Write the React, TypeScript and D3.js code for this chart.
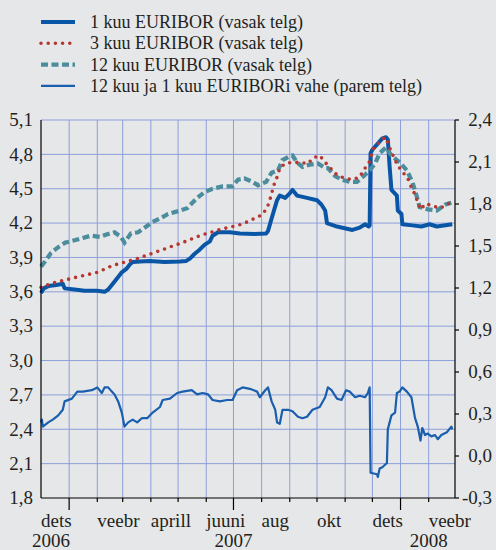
import React from "react";
import * as d3 from "d3";

// 1 kuu EURIBOR (vasak telg)
const oneMonth: [string, number][] = [
  ["2006-12-01", 3.59], ["2006-12-04", 3.63], ["2006-12-09", 3.65], ["2006-12-18", 3.66],
  ["2006-12-25", 3.67], ["2006-12-27", 3.63], ["2007-01-07", 3.62], ["2007-01-18", 3.61],
  ["2007-02-01", 3.61], ["2007-02-09", 3.6], ["2007-02-13", 3.62], ["2007-02-17", 3.66],
  ["2007-02-24", 3.73], ["2007-02-28", 3.77], ["2007-03-05", 3.8], ["2007-03-09", 3.84],
  ["2007-03-12", 3.86], ["2007-03-20", 3.865], ["2007-03-31", 3.87], ["2007-04-16", 3.86],
  ["2007-05-03", 3.865], ["2007-05-10", 3.87], ["2007-05-14", 3.89], ["2007-05-19", 3.93],
  ["2007-05-25", 3.97], ["2007-05-30", 4.01], ["2007-06-05", 4.04], ["2007-06-08", 4.09],
  ["2007-06-14", 4.12], ["2007-06-27", 4.12], ["2007-07-08", 4.11], ["2007-07-24", 4.105],
  ["2007-08-06", 4.11], ["2007-08-08", 4.13], ["2007-08-12", 4.24], ["2007-08-18", 4.4],
  ["2007-08-21", 4.44], ["2007-08-27", 4.42], ["2007-09-01", 4.46], ["2007-09-04", 4.49],
  ["2007-09-09", 4.44], ["2007-09-20", 4.42], ["2007-10-01", 4.4], ["2007-10-06", 4.36],
  ["2007-10-10", 4.31], ["2007-10-12", 4.2], ["2007-10-23", 4.17], ["2007-11-09", 4.14],
  ["2007-11-17", 4.16], ["2007-11-23", 4.19], ["2007-11-27", 4.17], ["2007-11-28", 4.18],
  ["2007-11-29", 4.81], ["2007-12-01", 4.84], ["2007-12-12", 4.94], ["2007-12-16", 4.95],
  ["2007-12-18", 4.93], ["2007-12-20", 4.69], ["2007-12-22", 4.49], ["2007-12-28", 4.44],
  ["2007-12-29", 4.31], ["2008-01-02", 4.28], ["2008-01-03", 4.19], ["2008-01-14", 4.18],
  ["2008-01-24", 4.17], ["2008-02-02", 4.19], ["2008-02-10", 4.17], ["2008-02-27", 4.19],
];

// 3 kuu EURIBOR (vasak telg)
const threeMonth: [string, number][] = [
  ["2006-12-01", 3.64], ["2006-12-11", 3.67], ["2007-01-05", 3.72], ["2007-02-01", 3.77],
  ["2007-02-18", 3.83], ["2007-03-17", 3.89], ["2007-04-11", 3.96], ["2007-05-06", 4.03],
  ["2007-05-25", 4.09], ["2007-06-02", 4.11], ["2007-06-19", 4.15], ["2007-07-06", 4.18],
  ["2007-07-16", 4.21], ["2007-07-24", 4.24], ["2007-08-01", 4.27], ["2007-08-07", 4.33],
  ["2007-08-10", 4.4], ["2007-08-12", 4.46], ["2007-08-16", 4.57], ["2007-08-18", 4.6],
  ["2007-08-21", 4.68], ["2007-08-27", 4.72], ["2007-09-03", 4.73], ["2007-09-12", 4.73],
  ["2007-09-21", 4.72], ["2007-09-27", 4.77], ["2007-10-04", 4.79], ["2007-10-10", 4.73],
  ["2007-10-17", 4.67], ["2007-10-23", 4.62], ["2007-10-29", 4.6], ["2007-11-08", 4.58],
  ["2007-11-17", 4.6], ["2007-11-21", 4.66], ["2007-11-27", 4.72], ["2007-11-30", 4.79],
  ["2007-12-02", 4.85], ["2007-12-08", 4.9], ["2007-12-15", 4.95], ["2007-12-18", 4.9],
  ["2007-12-22", 4.82], ["2007-12-29", 4.7], ["2008-01-03", 4.65], ["2008-01-09", 4.59],
  ["2008-01-13", 4.51], ["2008-01-17", 4.45], ["2008-01-20", 4.38], ["2008-01-23", 4.32],
  ["2008-01-29", 4.37], ["2008-02-05", 4.35], ["2008-02-14", 4.33], ["2008-02-22", 4.37],
  ["2008-02-27", 4.38],
];

// 12 kuu EURIBOR (vasak telg)
const twelveMonth: [string, number][] = [
  ["2006-12-01", 3.82], ["2006-12-05", 3.86], ["2006-12-12", 3.94], ["2006-12-20", 3.99],
  ["2006-12-28", 4.03], ["2007-01-07", 4.05], ["2007-01-16", 4.07], ["2007-01-25", 4.09],
  ["2007-02-04", 4.08], ["2007-02-11", 4.1], ["2007-02-20", 4.12], ["2007-02-27", 4.08],
  ["2007-03-03", 4.03], ["2007-03-10", 4.11], ["2007-03-18", 4.12], ["2007-03-27", 4.17],
  ["2007-04-03", 4.21], ["2007-04-11", 4.24], ["2007-04-20", 4.28], ["2007-04-29", 4.3],
  ["2007-05-11", 4.33], ["2007-05-22", 4.42], ["2007-05-30", 4.47], ["2007-06-08", 4.5],
  ["2007-06-19", 4.52], ["2007-06-30", 4.52], ["2007-07-06", 4.58], ["2007-07-13", 4.59],
  ["2007-07-22", 4.56], ["2007-07-28", 4.53], ["2007-08-06", 4.56], ["2007-08-12", 4.64],
  ["2007-08-19", 4.66], ["2007-08-24", 4.75], ["2007-08-31", 4.78], ["2007-09-04", 4.79],
  ["2007-09-09", 4.73], ["2007-09-15", 4.69], ["2007-09-23", 4.71], ["2007-10-02", 4.72],
  ["2007-10-10", 4.68], ["2007-10-13", 4.68], ["2007-10-21", 4.61], ["2007-10-28", 4.58],
  ["2007-11-06", 4.56], ["2007-11-14", 4.56], ["2007-11-20", 4.6], ["2007-11-28", 4.66],
  ["2007-12-04", 4.72], ["2007-12-09", 4.81], ["2007-12-16", 4.86], ["2007-12-22", 4.79],
  ["2007-12-31", 4.73], ["2008-01-08", 4.66], ["2008-01-14", 4.56], ["2008-01-19", 4.43],
  ["2008-01-22", 4.34], ["2008-01-31", 4.32], ["2008-02-10", 4.31], ["2008-02-19", 4.36],
  ["2008-02-27", 4.38],
];

// 12 kuu ja 1 kuu EURIBORi vahe (parem telg)
const spread: [string, number][] = [
  ["2006-12-01", 0.24], ["2006-12-02", 0.26], ["2006-12-03", 0.21], ["2006-12-09", 0.24],
  ["2006-12-14", 0.26], ["2006-12-20", 0.29], ["2006-12-25", 0.33], ["2006-12-27", 0.39],
  ["2007-01-04", 0.41], ["2007-01-10", 0.46], ["2007-01-16", 0.46], ["2007-01-26", 0.47],
  ["2007-02-01", 0.49], ["2007-02-06", 0.45], ["2007-02-09", 0.49], ["2007-02-13", 0.49],
  ["2007-02-17", 0.46], ["2007-02-20", 0.44], ["2007-02-24", 0.39], ["2007-02-28", 0.31],
  ["2007-03-03", 0.21], ["2007-03-07", 0.24], ["2007-03-12", 0.26], ["2007-03-17", 0.24],
  ["2007-03-22", 0.27], ["2007-03-28", 0.27], ["2007-04-03", 0.31], ["2007-04-11", 0.35],
  ["2007-04-14", 0.4], ["2007-04-22", 0.41], ["2007-04-30", 0.45], ["2007-05-06", 0.46],
  ["2007-05-16", 0.47], ["2007-05-22", 0.44], ["2007-05-28", 0.45], ["2007-06-03", 0.44],
  ["2007-06-08", 0.4], ["2007-06-16", 0.39], ["2007-06-24", 0.4], ["2007-06-30", 0.4],
  ["2007-07-05", 0.47], ["2007-07-11", 0.49], ["2007-07-19", 0.48], ["2007-07-27", 0.46],
  ["2007-07-30", 0.42], ["2007-08-05", 0.47], ["2007-08-08", 0.49], ["2007-08-12", 0.39],
  ["2007-08-16", 0.33], ["2007-08-18", 0.24], ["2007-08-21", 0.23], ["2007-08-24", 0.33],
  ["2007-08-30", 0.33], ["2007-09-04", 0.32], ["2007-09-10", 0.28], ["2007-09-15", 0.27],
  ["2007-09-20", 0.28], ["2007-09-26", 0.33], ["2007-10-04", 0.35], ["2007-10-10", 0.42],
  ["2007-10-13", 0.49], ["2007-10-17", 0.47], ["2007-10-23", 0.41], ["2007-10-28", 0.4],
  ["2007-11-02", 0.47], ["2007-11-06", 0.46], ["2007-11-12", 0.42], ["2007-11-17", 0.43],
  ["2007-11-23", 0.42], ["2007-11-26", 0.45], ["2007-11-28", 0.49], ["2007-11-29", -0.12],
  ["2007-12-06", -0.13], ["2007-12-07", -0.15], ["2007-12-09", -0.09], ["2007-12-12", -0.08],
  ["2007-12-17", -0.05], ["2007-12-18", 0.19], ["2007-12-22", 0.29], ["2007-12-26", 0.31],
  ["2007-12-28", 0.45], ["2007-12-31", 0.46], ["2008-01-03", 0.49], ["2008-01-08", 0.46],
  ["2008-01-13", 0.42], ["2008-01-17", 0.27], ["2008-01-20", 0.21], ["2008-01-23", 0.11],
  ["2008-01-25", 0.2], ["2008-01-28", 0.15], ["2008-01-31", 0.16], ["2008-02-04", 0.14],
  ["2008-02-08", 0.15], ["2008-02-11", 0.12], ["2008-02-15", 0.15], ["2008-02-21", 0.17],
  ["2008-02-26", 0.21], ["2008-02-27", 0.19],
];

const leftTicks = [5.1, 4.8, 4.5, 4.2, 3.9, 3.6, 3.3, 3.0, 2.7, 2.4, 2.1, 1.8];
const rightTicks = [2.4, 2.1, 1.8, 1.5, 1.2, 0.9, 0.6, 0.3, 0.0, -0.3];

const monthLabels: [string, string][] = [
  ["2006-12-01", "dets"], ["2007-02-01", "veebr"], ["2007-04-01", "aprill"], ["2007-06-01", "juuni"],
  ["2007-08-01", "aug"], ["2007-10-01", "okt"], ["2007-12-01", "dets"], ["2008-02-01", "veebr"],
];
const yearLabels: [string, string][] = [
  ["2006-12-12", "2006"], ["2007-07-01", "2007"], ["2008-02-01", "2008"],
];
const longTickDates = ["2007-01-01", "2007-07-01", "2008-01-01"];

const legendLabels = [
  "1 kuu EURIBOR (vasak telg)",
  "3 kuu EURIBOR (vasak telg)",
  "12 kuu EURIBOR (vasak telg)",
  "12 kuu ja 1 kuu EURIBORi vahe (parem telg)",
];

const parse = d3.timeParse("%Y-%m-%d");
const fmt = d3.formatLocale({ decimal: ",", thousands: " ", grouping: [3], currency: ["", ""], minus: "-" }).format(".1f");

const BG = "#e6e7e9";
const GRID = "#8d9fd9";
const TEXT = "#231f20";
const FONT = "'Liberation Serif', 'Times New Roman', serif";

const styles = [
  { stroke: "#0a56a6", width: 4, dash: undefined, cap: "butt" },
  { stroke: "#b5372f", width: 3.6, dash: "0 7.2", cap: "round" },
  { stroke: "#4b8d9d", width: 4.2, dash: "7 3.5", cap: "butt" },
  { stroke: "#1a5eae", width: 2.2, dash: undefined, cap: "butt" },
];

export default function App() {
  const width = 496;
  const height = 550;
  const left = 41;
  const right = 455;
  const top = 120;
  const bottom = 498;

  const x = d3.scaleTime().domain([parse("2006-12-01")!, parse("2008-03-01")!]).range([left, right]);
  const yL = d3.scaleLinear().domain([1.8, 5.1]).range([bottom, top]);
  const yR = d3.scaleLinear().domain([-0.3, 2.4]).range([bottom, top]);

  const lineL = d3.line<[string, number]>().x((d) => x(parse(d[0])!)).y((d) => yL(d[1]));
  const lineR = d3.line<[string, number]>().x((d) => x(parse(d[0])!)).y((d) => yR(d[1]));

  const months = d3.timeMonth.range(parse("2007-01-01")!, parse("2008-02-02")!);
  const longTicks = longTickDates.map((s) => +parse(s)!);

  return (
    <svg width={width} height={height} style={{ position: "absolute", left: 0, top: 0, fontFamily: FONT }}>
      <rect width={width} height={height} fill={BG} />

      {/* legend */}
      {legendLabels.map((label, i) => {
        const s = styles[i];
        const ly = 22 + i * 21.3;
        return (
          <g key={label}>
            <line x1={41} x2={75} y1={ly} y2={ly} stroke={s.stroke} strokeWidth={s.width}
              strokeDasharray={s.dash} strokeLinecap={s.cap as any} />
            <text x={90} y={ly + 6} fontSize={18} fill={TEXT}>{label}</text>
          </g>
        );
      })}

      {/* gridlines */}
      {leftTicks.slice(0, -1).map((t) => (
        <line key={t} x1={left} x2={right} y1={yL(t)} y2={yL(t)} stroke={GRID} strokeWidth={1} />
      ))}
      {months.map((m) => (
        <line key={+m} x1={x(m)} x2={x(m)} y1={top} y2={bottom} stroke={GRID} strokeWidth={1} />
      ))}

      {/* series */}
      <path d={lineR(spread)!} fill="none" stroke={styles[3].stroke} strokeWidth={styles[3].width} strokeLinejoin="round" />
      <path d={lineL(oneMonth)!} fill="none" stroke={styles[0].stroke} strokeWidth={styles[0].width} strokeLinejoin="round" />
      <path d={lineL(twelveMonth)!} fill="none" stroke={styles[2].stroke} strokeWidth={styles[2].width} strokeDasharray={styles[2].dash} />
      <path d={lineL(threeMonth)!} fill="none" stroke={styles[1].stroke} strokeWidth={styles[1].width} strokeDasharray={styles[1].dash} strokeLinecap="round" />

      {/* axes */}
      <line x1={left} x2={left} y1={top} y2={bottom} stroke="#000" strokeWidth={1.2} />
      <line x1={right} x2={right} y1={top} y2={bottom} stroke="#000" strokeWidth={1.2} />
      <line x1={left} x2={right} y1={bottom} y2={bottom} stroke="#000" strokeWidth={1.2} />

      {leftTicks.map((t) => (
        <text key={t} x={33} y={yL(t)} dy="0.33em" textAnchor="end" fontSize={19} fill={TEXT}>{fmt(t)}</text>
      ))}
      {rightTicks.map((t) => (
        <g key={t}>
          <line x1={right} x2={right + 4} y1={yR(t)} y2={yR(t)} stroke="#000" strokeWidth={1.2} />
          <text x={492} y={yR(t)} dy="0.33em" textAnchor="end" fontSize={19} fill={TEXT}>{fmt(t)}</text>
        </g>
      ))}
      {months.map((m) => (
        <line key={+m} x1={x(m)} x2={x(m)} y1={bottom} y2={bottom + (longTicks.includes(+m) ? 12 : 4)} stroke="#000" strokeWidth={1.2} />
      ))}
      {monthLabels.map(([d, l], i) => (
        <text key={i} x={x(parse(d)!)} y={527} fontSize={19} fill={TEXT}>{l}</text>
      ))}
      {yearLabels.map(([d, l]) => (
        <text key={l} x={x(parse(d)!)} y={547} textAnchor="middle" fontSize={19} fill={TEXT}>{l}</text>
      ))}
    </svg>
  );
}
